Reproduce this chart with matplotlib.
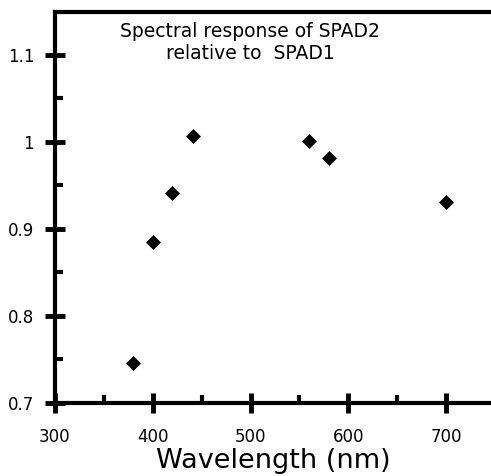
import matplotlib
matplotlib.use('Agg')
import matplotlib.pyplot as plt
from matplotlib.ticker import MultipleLocator

# Spectral response of SPAD2 relative to SPAD1
wavelength_nm = [380, 400, 420, 441, 560, 580, 700]
rel_response  = [0.746, 0.885, 0.941, 1.006, 1.001, 0.981, 0.931]

x_ticks = [300, 400, 500, 600, 700]
y_ticks = [0.7, 0.8, 0.9, 1.0, 1.1]
y_tick_labels = ['0.7', '0.8', '0.9', '1', '1.1']

plt.rcParams['font.family'] = ['DejaVu Sans']

fig = plt.figure(figsize=(4.91, 4.76), dpi=100)
ax = fig.add_axes([0.112, 0.154, 0.888, 0.821])

ax.scatter(wavelength_nm, rel_response, marker='D', s=58, c='black',
           linewidths=0, zorder=3)

ax.set_xlim(300, 746)
ax.set_ylim(0.7, 1.149)

ax.set_xticks(x_ticks)
ax.set_yticks(y_ticks)
ax.set_yticklabels(y_tick_labels)
ax.xaxis.set_minor_locator(MultipleLocator(50))
ax.yaxis.set_minor_locator(MultipleLocator(0.05))

ax.tick_params(which='major', direction='inout', length=14, width=3.5,
               labelsize=12)
ax.tick_params(which='minor', direction='in', length=6, width=3)
ax.tick_params(axis='x', which='major', pad=11)
ax.tick_params(axis='y', which='major', pad=8)

for side in ['left', 'bottom', 'top']:
    ax.spines[side].set_linewidth(3)
ax.spines['right'].set_visible(False)

ax.set_xlabel('Wavelength (nm)', fontsize=19.5, labelpad=2)

ax.text(0.448, 0.975, 'Spectral response of SPAD2\nrelative to  SPAD1',
        transform=ax.transAxes, ha='center', va='top', fontsize=13.5,
        linespacing=1.25)

fig.savefig('out.png', dpi=100)
